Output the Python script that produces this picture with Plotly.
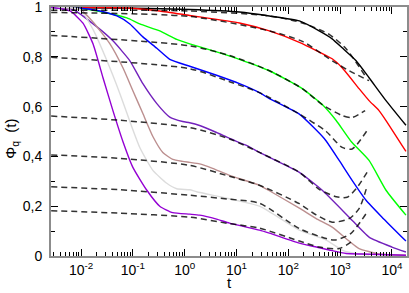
import plotly.graph_objects as go

# ---------------- data ----------------
t_black = [0.00265, 0.1, 1.25, 11.4, 43.1, 163, 394, 701, 1093, 2032, 3611, 7674, 18600]
v_black = [0.998, 0.995, 0.99, 0.98, 0.964, 0.944, 0.904, 0.872, 0.836, 0.784, 0.716, 0.624, 0.525]

t_red = [0.00265, 0.0265, 0.0767, 0.33, 1.25, 11.4, 43.1, 163, 701, 1093, 2318, 3611, 5623, 7674, 18600]
v_red = [0.999, 0.998, 0.996, 0.984, 0.966, 0.936, 0.904, 0.858, 0.792, 0.756, 0.672, 0.624, 0.584, 0.544, 0.42]

t_green = [0.00265, 0.0096, 0.0316, 0.0767, 0.136, 0.33, 0.702, 1.25, 4.12, 11.4, 43.1, 186, 451, 838, 1630, 3611, 7674, 18600]
v_green = [0.999, 0.995, 0.976, 0.956, 0.932, 0.904, 0.87, 0.852, 0.82, 0.79, 0.744, 0.672, 0.608, 0.544, 0.46, 0.384, 0.264, 0.164]

t_blue = [0.00265, 0.0096, 0.0232, 0.0492, 0.0876, 0.156, 0.29, 0.515, 1.25, 4.12, 11.4, 27.7, 43.1, 163, 493, 957, 1702, 3162, 6426, 18600]
v_blue = [0.999, 0.995, 0.984, 0.964, 0.932, 0.88, 0.834, 0.79, 0.762, 0.726, 0.692, 0.656, 0.632, 0.57, 0.472, 0.384, 0.304, 0.224, 0.156, 0.06]

t_indigo = [0.00265, 0.007, 0.0203, 0.0412, 0.0876, 0.156, 0.29, 0.515, 0.915, 1.25, 1.94, 4.12, 7.33, 15.6, 27.7, 43.1, 163, 451, 1489, 3611, 10000, 18600]
v_indigo = [0.999, 0.99, 0.92, 0.864, 0.784, 0.692, 0.612, 0.558, 0.54, 0.535, 0.524, 0.496, 0.472, 0.444, 0.416, 0.396, 0.336, 0.264, 0.156, 0.076, 0.036, 0.016]

t_brown = [0.00265, 0.0096, 0.017, 0.0361, 0.0642, 0.1, 0.156, 0.243, 0.378, 0.588, 0.915, 1.25, 1.94, 3.45, 7.33, 27.7, 43.1, 163, 345, 701, 1489, 2318, 5623, 18600]
v_brown = [0.999, 0.99, 0.94, 0.852, 0.756, 0.664, 0.572, 0.48, 0.416, 0.388, 0.38, 0.376, 0.37, 0.352, 0.324, 0.284, 0.262, 0.192, 0.15, 0.116, 0.06, 0.03, 0.008, 0.003]

t_grey = [0.00265, 0.0096, 0.017, 0.0316, 0.0562, 0.0876, 0.136, 0.243, 0.451, 0.702, 1.25, 1.7, 7.33, 27.7, 163, 538, 1093, 2032, 3611]
v_grey = [0.999, 0.99, 0.91, 0.784, 0.652, 0.54, 0.436, 0.344, 0.292, 0.27, 0.266, 0.258, 0.23, 0.2, 0.104, 0.064, 0.024, 0.01, 0.005]

t_violet = [0.00265, 0.00614, 0.0109, 0.017, 0.0265, 0.0412, 0.0642, 0.1, 0.186, 0.33, 0.588, 1.25, 1.94, 4.12, 7.33, 27.7, 43.1, 163, 345, 614, 1304, 2650, 18600]
v_violet = [0.999, 0.984, 0.935, 0.852, 0.716, 0.584, 0.46, 0.356, 0.264, 0.2, 0.174, 0.168, 0.164, 0.148, 0.132, 0.104, 0.092, 0.052, 0.036, 0.024, 0.01, 0.008, 0.003]

# dashed fits
td_black = [0.00265, 1.25, 43.1, 186, 614, 1304, 3305]
vd_black = [0.987, 0.984, 0.964, 0.936, 0.89, 0.832, 0.712]

td_red = [0.00265, 1.25, 43.1, 186, 701, 1489, 3611]
vd_red = [0.978, 0.962, 0.904, 0.862, 0.784, 0.744, 0.704]

td_green = [0.00265, 1.25, 7.33, 43.1, 186, 451, 1093, 1702, 3030]
vd_green = [0.886, 0.844, 0.805, 0.744, 0.672, 0.608, 0.564, 0.556, 0.584]

td_blue = [0.00265, 1.25, 7.33, 27.7, 163, 538, 1093, 1702, 3305]
vd_blue = [0.798, 0.752, 0.70, 0.656, 0.57, 0.50, 0.436, 0.430, 0.504]

td_indigo = [0.00265, 0.0562, 1.25, 7.33, 27.7, 163, 394, 838, 1364, 2032, 3305]
vd_indigo = [0.562, 0.545, 0.516, 0.47, 0.416, 0.336, 0.268, 0.238, 0.236, 0.27, 0.336]

td_brown = [0.00265, 0.0562, 1.25, 7.33, 27.7, 163, 345, 701, 1489, 2318, 3305]
vd_brown = [0.406, 0.392, 0.364, 0.32, 0.284, 0.21, 0.165, 0.136, 0.15, 0.19, 0.28]

td_grey = [0.00265, 0.0562, 1.25, 7.33, 27.7, 163, 538, 800, 1600, 3162]
vd_grey = [0.278, 0.266, 0.244, 0.228, 0.212, 0.11, 0.07, 0.064, 0.09, 0.17]

td_violet = [0.00265, 0.0562, 1.25, 7.33, 27.7, 163, 394, 957, 1858]
vd_violet = [0.182, 0.172, 0.156, 0.13, 0.112, 0.06, 0.036, 0.03, 0.064]

x_tickvals = [0.01, 0.1, 1, 10, 100, 1000, 10000]
x_ticktext = ['10<sup>-2</sup>', '10<sup>-1</sup>', '10<sup>0</sup>', '10<sup>1</sup>',
              '10<sup>2</sup>', '10<sup>3</sup>', '10<sup>4</sup>']
y_tickvals = [0, 0.2, 0.4, 0.6, 0.8, 1]
y_ticktext = ['0', '0,2', '0,4', '0,6', '0,8', '1']

# ---------------- figure ----------------
solid = [
    (t_black, v_black, '#000000'),
    (t_red, v_red, '#ff0000'),
    (t_green, v_green, '#00ff00'),
    (t_blue, v_blue, '#0000ff'),
    (t_indigo, v_indigo, '#7221bc'),
    (t_brown, v_brown, '#bc8f8f'),
    (t_grey, v_grey, '#dcdcdc'),
    (t_violet, v_violet, '#9400d3'),
]
dashed = [
    (td_black, vd_black), (td_red, vd_red), (td_green, vd_green), (td_blue, vd_blue),
    (td_indigo, vd_indigo), (td_brown, vd_brown), (td_grey, vd_grey), (td_violet, vd_violet),
]

fig = go.Figure()
for t, v, c in solid:
    fig.add_trace(go.Scatter(x=t, y=v, mode='lines',
                             line=dict(color=c, width=1.4, shape='spline', smoothing=0.5),
                             showlegend=False, hoverinfo='skip'))
for t, v in dashed:
    fig.add_trace(go.Scatter(x=t, y=v, mode='lines',
                             line=dict(color='#000000', width=1.5, dash='6px,4px',
                                       shape='spline', smoothing=0.7),
                             opacity=0.8, showlegend=False, hoverinfo='skip'))

minor_x = [m * 10 ** e for e in range(-3, 5) for m in range(2, 10)]

font = dict(family='Liberation Sans, Arial, sans-serif', size=14, color='#000000')
title_font = dict(family='Liberation Sans, Arial, sans-serif', size=15, color='#000000')

fig.update_layout(
    width=409, height=293,
    margin=dict(l=51, r=2, t=7, b=37, autoexpand=False),
    paper_bgcolor='white', plot_bgcolor='white',
    font=font,
    xaxis=dict(type='log', range=[-2.58, 4.29], automargin=False,
               tickvals=x_tickvals, ticktext=x_ticktext, ticklabeloverflow='allow',
               ticks='inside', ticklen=7, tickwidth=1, tickcolor='#000000',
               minor=dict(tickvals=minor_x, ticks='inside', ticklen=4, tickwidth=1, tickcolor='#000000'),
               showline=True, linecolor='#8c8c8c', linewidth=2, mirror='ticks',
               showgrid=False, zeroline=False),
    yaxis=dict(range=[0, 1], automargin=False,
               tickvals=y_tickvals, ticktext=y_ticktext, ticklabeloverflow='allow',
               ticklabelstandoff=4,
               ticks='inside', ticklen=7, tickwidth=1, tickcolor='#000000',
               minor=dict(tickvals=[0.1, 0.3, 0.5, 0.7, 0.9], ticks='inside', ticklen=4, tickwidth=1, tickcolor='#000000'),
               showline=True, linecolor='#8c8c8c', linewidth=2, mirror='ticks',
               showgrid=False, zeroline=False),
    annotations=[
        dict(text='t', xref='paper', yref='paper', x=0.5, y=-0.105,
             xanchor='center', yanchor='middle', showarrow=False, font=title_font),
        dict(text='Φ<sub>q</sub>  (t)', xref='paper', yref='paper', x=-0.11, y=0.47,
             xanchor='center', yanchor='middle', textangle=-90, showarrow=False, font=title_font),
    ],
)

fig.write_html('out.html', config={'displayModeBar': False},
               post_script="document.body.style.margin='0';document.body.style.overflow='hidden';")
